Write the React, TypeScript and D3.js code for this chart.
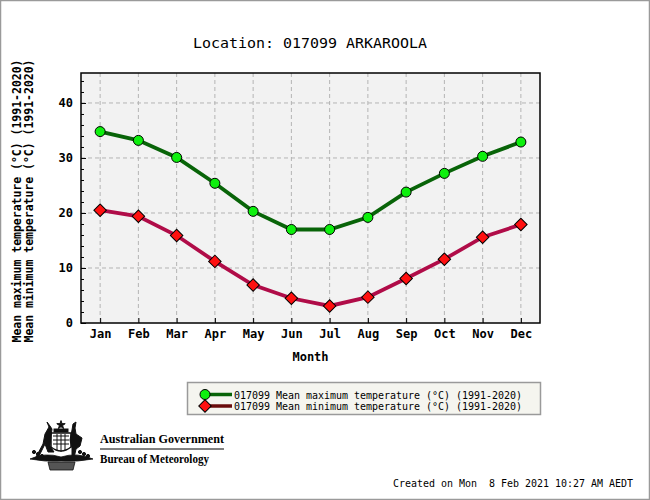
import * as d3 from 'd3';
import { useEffect, useRef } from 'react';

const months = ['Jan', 'Feb', 'Mar', 'Apr', 'May', 'Jun', 'Jul', 'Aug', 'Sep', 'Oct', 'Nov', 'Dec'];
const meanMax = [34.8, 33.2, 30.1, 25.4, 20.3, 17.0, 17.0, 19.2, 23.8, 27.2, 30.3, 32.9];
const meanMin = [20.5, 19.4, 15.9, 11.2, 6.9, 4.5, 3.1, 4.7, 8.1, 11.6, 15.6, 17.9];
const yTicks = [0, 10, 20, 30, 40];
const yMinorTicks = [2, 4, 6, 8, 12, 14, 16, 18, 22, 24, 26, 28, 32, 34, 36, 38, 42, 44];
const seriesLabels = [
  '017099 Mean maximum temperature (°C) (1991-2020)',
  '017099 Mean minimum temperature (°C) (1991-2020)',
];
const yTitles = [
  'Mean maximum temperature (°C) (1991-2020)',
  'Mean minimum temperature (°C) (1991-2020)',
];

const MONO = "'DejaVu Sans Mono', 'Liberation Mono', monospace";
const SERIF = "'Liberation Serif', 'DejaVu Serif', serif";

const Chart = () => {
  const svgRef = useRef<SVGSVGElement | null>(null);

  useEffect(() => {
    if (!svgRef.current) return;
    const svg = d3.select(svgRef.current);
    svg.selectAll('*').remove();

    const width = 650;
    const height = 500;
    const plot = { left: 81, top: 73, right: 540, bottom: 323 };

    svg
      .append('rect')
      .attr('x', 0.5)
      .attr('y', 0.5)
      .attr('width', width - 1)
      .attr('height', height - 1)
      .attr('fill', '#fff')
      .attr('stroke', '#9a9a9a')
      .attr('stroke-width', 1.5);

    const x = d3.scalePoint().domain(months).range([plot.left, plot.right]).padding(0.5);
    const y = d3.scaleLinear().domain([0, 45.45]).range([plot.bottom, plot.top]);

    // plot background
    svg
      .append('rect')
      .attr('x', plot.left)
      .attr('y', plot.top)
      .attr('width', plot.right - plot.left)
      .attr('height', plot.bottom - plot.top)
      .attr('fill', '#f2f2f2');

    // grid
    const grid = svg.append('g').attr('stroke', '#b4b4b4').attr('stroke-dasharray', '4,3');
    grid
      .selectAll('.vg')
      .data(months)
      .enter()
      .append('line')
      .attr('x1', (d) => x(d) as number)
      .attr('x2', (d) => x(d) as number)
      .attr('y1', plot.top)
      .attr('y2', plot.bottom);
    grid
      .selectAll('.hg')
      .data(yTicks.filter((t) => t > 0))
      .enter()
      .append('line')
      .attr('x1', plot.left)
      .attr('x2', plot.right)
      .attr('y1', (d) => y(d))
      .attr('y2', (d) => y(d));

    // frame
    svg
      .append('rect')
      .attr('x', plot.left)
      .attr('y', plot.top)
      .attr('width', plot.right - plot.left)
      .attr('height', plot.bottom - plot.top)
      .attr('fill', 'none')
      .attr('stroke', '#000')
      .attr('stroke-width', 1.5);

    // y axis
    const yAxis = svg
      .append('g')
      .attr('transform', `translate(${plot.left},0)`)
      .call(d3.axisLeft(y).tickValues(yTicks).tickSize(-5).tickPadding(8).tickFormat(d3.format('d')));
    yAxis.select('.domain').remove();
    yAxis
      .selectAll('text')
      .attr('font-family', MONO)
      .attr('font-weight', 'bold')
      .attr('font-size', '12px')
      .attr('fill', '#000');

    const yMinor = svg
      .append('g')
      .attr('transform', `translate(${plot.left},0)`)
      .call(d3.axisLeft(y).tickValues(yMinorTicks).tickSize(-3).tickFormat(() => ''));
    yMinor.select('.domain').remove();

    // x axis
    const xAxis = svg
      .append('g')
      .attr('transform', `translate(0,${plot.bottom})`)
      .call(d3.axisBottom(x).tickSize(-5).tickPadding(6));
    xAxis.select('.domain').remove();
    xAxis
      .selectAll('text')
      .attr('font-family', MONO)
      .attr('font-weight', 'bold')
      .attr('font-size', '12px')
      .attr('fill', '#000');

    // lines
    const series = [
      { values: meanMax, color: '#086408', legendColor: '#086408', marker: 'circle', fill: '#0ef00e' },
      { values: meanMin, color: '#b00c48', legendColor: '#6a0c0c', marker: 'diamond', fill: '#ff1010' },
    ];
    const line = d3
      .line<number>()
      .x((_, i) => x(months[i]) as number)
      .y((d) => y(d));

    const diamond = d3.symbol(d3.symbolSquare, 78);
    const drawMarker = (g: d3.Selection<SVGGElement, unknown, null, undefined>, s: (typeof series)[number], cx: number, cy: number) => {
      if (s.marker === 'circle') {
        g.append('circle')
          .attr('cx', cx)
          .attr('cy', cy)
          .attr('r', 5)
          .attr('fill', s.fill)
          .attr('stroke', '#000')
          .attr('stroke-width', 1);
      } else {
        g.append('path')
          .attr('d', diamond() as string)
          .attr('transform', `translate(${cx},${cy}) rotate(45)`)
          .attr('fill', s.fill)
          .attr('stroke', '#000')
          .attr('stroke-width', 1);
      }
    };

    series.forEach((s) => {
      svg
        .append('path')
        .attr('d', line(s.values) as string)
        .attr('fill', 'none')
        .attr('stroke', s.color)
        .attr('stroke-width', 3.8);
    });
    series.forEach((s) => {
      const g = svg.append('g');
      s.values.forEach((v, i) => drawMarker(g, s, x(months[i]) as number, y(v)));
    });

    // title
    svg
      .append('text')
      .attr('x', 193)
      .attr('y', 48)
      .attr('font-family', MONO)
      .attr('font-size', '14px')
      .attr('textLength', 234)
      .attr('lengthAdjust', 'spacingAndGlyphs')
      .text('Location: 017099 ARKAROOLA');

    svg
      .append('text')
      .attr('x', (plot.left + plot.right) / 2)
      .attr('y', 361)
      .attr('text-anchor', 'middle')
      .attr('font-family', MONO)
      .attr('font-weight', 'bold')
      .attr('font-size', '12px')
      .text('Month');

    yTitles.forEach((t, i) => {
      svg
        .append('text')
        .attr('transform', `translate(${21 + i * 12},201) rotate(-90)`)
        .attr('text-anchor', 'middle')
        .attr('font-family', MONO)
        .attr('font-weight', 'bold')
        .attr('font-size', '11.5px')
        .attr('textLength', 283)
        .attr('lengthAdjust', 'spacingAndGlyphs')
        .text(t);
    });

    // legend
    const legend = svg.append('g');
    legend
      .append('rect')
      .attr('x', 187.5)
      .attr('y', 382.5)
      .attr('width', 353)
      .attr('height', 32)
      .attr('fill', '#f5f5ef')
      .attr('stroke', '#9a9a9a')
      .attr('stroke-width', 1.5);
    series.forEach((s, i) => {
      const cy = 394.5 + i * 11.5;
      legend
        .append('line')
        .attr('x1', 205)
        .attr('x2', 232)
        .attr('y1', cy)
        .attr('y2', cy)
        .attr('stroke', s.legendColor)
        .attr('stroke-width', 3.5);
      drawMarker(legend, s, 205, cy);
      legend
        .append('text')
        .attr('x', 234)
        .attr('y', cy + 4)
        .attr('font-family', MONO)
        .attr('font-size', '10px')
        .attr('textLength', 288)
        .attr('lengthAdjust', 'spacingAndGlyphs')
        .text(seriesLabels[i]);
    });

    // created stamp
    svg
      .append('text')
      .attr('x', 393)
      .attr('y', 487)
      .attr('font-family', MONO)
      .attr('font-size', '10px')
      .attr('xml:space', 'preserve')
      .style('white-space', 'pre')
      .attr('textLength', 240)
      .attr('lengthAdjust', 'spacingAndGlyphs')
      .text('Created on Mon  8 Feb 2021 10:27 AM AEDT');

    // logo text
    svg
      .append('text')
      .attr('x', 100)
      .attr('y', 443)
      .attr('font-family', SERIF)
      .attr('font-weight', 'bold')
      .attr('font-size', '13px')
      .attr('textLength', 124)
      .attr('lengthAdjust', 'spacingAndGlyphs')
      .text('Australian Government');
    svg
      .append('line')
      .attr('x1', 100)
      .attr('x2', 224)
      .attr('y1', 449)
      .attr('y2', 449)
      .attr('stroke', '#000')
      .attr('stroke-width', 1);
    svg
      .append('text')
      .attr('x', 100)
      .attr('y', 463)
      .attr('font-family', SERIF)
      .attr('font-weight', 'bold')
      .attr('font-size', '11.5px')
      .attr('textLength', 109)
      .attr('lengthAdjust', 'spacingAndGlyphs')
      .text('Bureau of Meteorology');

    // coat of arms (rough)
    const arms = svg.append('g').attr('fill', '#111').attr('stroke', '#111');
    const star = d3.symbol(d3.symbolStar, 22);
    arms.append('path').attr('d', star() as string).attr('transform', 'translate(61,425)');
    arms.append('rect').attr('x', 54).attr('y', 429).attr('width', 14).attr('height', 3);
    // shield
    arms
      .append('path')
      .attr('d', 'M51,433 L71,433 L71,447 Q61,455 51,447 Z')
      .attr('fill', '#fff')
      .attr('stroke-width', 1.5);
    arms.append('path').attr('d', 'M53,436 H69 M53,440 H69 M53,444 H69 M57,434 V450 M61,434 V452 M65,434 V450').attr('fill', 'none').attr('stroke-width', 1);
    // kangaroo
    arms
      .append('path')
      .attr('d', 'M49,427 L47,422 L50,426 L52,429 L51,436 L50,446 L54,452 L48,452 L45,444 L38,458 L36,457 L43,444 L45,434 Z');
    // emu
    arms
      .append('path')
      .attr('d', 'M73,424 L76,422 L75,428 L76,434 L82,438 L80,446 L76,449 L74,458 L72,458 L72,448 L70,440 L72,430 Z');
    // wattle
    arms
      .append('path')
      .attr('d', 'M30,459 Q45,452 61,457 Q77,452 93,459 Q78,462 61,461 Q45,462 30,459 Z')
      .attr('stroke-width', 0.8);
    const dots = [34, 38, 42, 80, 84, 88];
    arms
      .selectAll('.dot')
      .data(dots)
      .enter()
      .append('circle')
      .attr('cx', (d) => d)
      .attr('cy', (d, i) => 452 + (i % 3) * 2)
      .attr('r', 1.6);
    arms
      .append('path')
      .attr('d', 'M48,462 L75,462 L73,470 L50,470 Z')
      .attr('fill', '#555')
      .attr('stroke-width', 0.8);
  }, []);

  return (
    <svg
      ref={svgRef}
      width={650}
      height={500}
      style={{ position: 'absolute', left: 0, top: 0, display: 'block' }}
    ></svg>
  );
};

export default function App() {
  return <Chart />;
}
